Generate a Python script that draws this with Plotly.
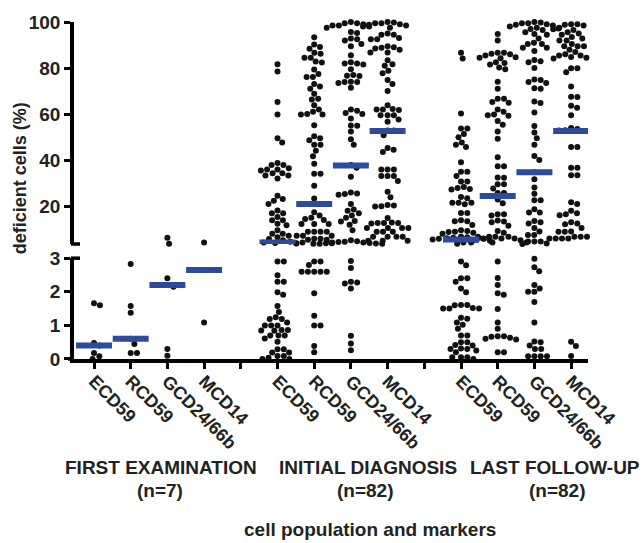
import numpy as np
import plotly.graph_objects as go

# ---------------- data ----------------
groups = ["FIRST EXAMINATION", "INITIAL DIAGNOSIS", "LAST FOLLOW-UP"]
group_n = ["(n=7)", "(n=82)", "(n=82)"]
markers = ["ECD59", "RCD59", "GCD24/66b", "MCD14"]

first_ecd59 = [0.0, 0.08, 0.18, 0.4, 0.48, 1.6, 1.66]
first_rcd59 = [0.18, 0.18, 0.45, 0.6, 1.38, 1.58, 2.83]
first_gcd = [0.1, 0.3, 2.15, 2.2, 2.4, 3.7, 6.3]
first_mcd14 = [1.09, 2.65, 2.65, 2.65, 2.65, 2.65, 4.3]

init_ecd59 = [81.7, 78.5, 65.3, 59.8, 49.5, 47.7,
              38.8, 37.9, 37.9, 36.5, 36.0, 36.0, 35.5, 34.3, 34.3, 33.4, 33.4, 32.0,
              24.6, 23.1, 22.4, 21.0, 18.2, 17.0, 17.0, 15.3, 13.9, 13.9, 12.4, 11.7,
              9.6, 8.1, 8.1, 7.2, 6.5, 5.8, 5.2, 4.6, 4.3, 4.0, 3.8,
              2.9, 2.9, 2.49, 2.3, 2.3, 1.99, 1.91, 1.58, 1.40, 1.24, 1.19, 1.19,
              1.09, 1.0, 1.0, 1.0, 0.86, 0.85, 0.84, 0.86, 0.7, 0.7, 0.7, 0.61,
              0.51, 0.29, 0.29, 0.19, 0.19, 0.09, 0.09, 0.04, 0.0, 0.0]
init_rcd59 = [93.4, 90.2, 89.1, 88.4, 86.7, 86.2, 84.5, 84.5, 82.8, 82.4, 79.4, 77.4,
              76.1, 76.1, 73.1, 72.0, 71.0, 68.8, 66.7, 66.3, 63.8, 62.0, 61.0, 60.0,
              59.8, 59.8, 55.2, 50.4, 49.5, 48.7, 46.7, 46.7, 44.1, 41.7, 38.5, 34.1,
              34.1, 28.9, 23.4, 21.0, 17.4, 16.0, 15.0, 14.5, 14.0, 12.3, 12.3, 12.3,
              8.9, 8.9, 8.9, 8.9, 7.2, 7.2, 7.2, 5.9, 5.9, 5.5, 5.5, 4.2, 3.9, 3.9,
              2.9, 2.9, 2.8, 2.6, 2.6, 2.6, 2.6, 2.6, 1.96, 1.29, 1.0, 1.0, 0.39, 0.2]
init_gcd = [100, 99.5, 99.5, 99, 98.5, 98.5, 98, 97.5, 95.7, 95.2, 92.8, 92.5, 92.0,
            90.5, 89.5, 85.6, 82.5, 82.0, 82.0, 81.5, 79.5, 77.0, 76.7, 76.5, 74.1,
            74.0, 73.9, 73.5, 71.4, 62.0, 61.5, 60.5, 60.0, 58.1, 55.1, 55.0, 52.4,
            49.1, 46.7, 37.9, 36.7, 32.8, 26.0, 25.5, 25.0, 25.3, 21.0, 18.6, 18.0,
            17.0, 16.0, 15.0, 13.6, 13.4, 12.0, 9.6, 5.2, 4.8, 4.6, 4.5, 4.3, 4.2,
            4.0, 3.9, 3.8, 3.7, 3.7, 3.7,
            2.92, 2.71, 2.30, 2.28, 2.25, 2.1, 0.69, 0.46, 0.26]
init_mcd14 = [100, 99.8, 99.5, 99.5, 99, 98.8, 98.5, 98, 97.5, 95, 94.5, 94.5, 93,
              92.5, 92.5, 89.5, 89, 88.8, 88.5, 88, 86.8, 86.8, 83.4, 81.7, 81, 78.8,
              77.7, 74.8, 73.1, 70, 63.8, 62.2, 62, 62, 61.8, 59.5, 59.5, 59.5, 57.7,
              56.7, 52.9, 52.9, 50.8, 45.3, 44.5, 43.5, 36, 36, 36, 33.1, 33.1, 33.1,
              31, 26.3, 23.9, 20.5, 20.3, 20.0, 19.9, 14.9, 12.9, 12.7, 12.7, 12.7,
              12.5, 10.6, 10.6, 10.6, 10.6, 8.9, 8.9, 8.9, 6.7, 6.7, 6.7, 6.7, 5.0,
              5.0, 5.0]

last_ecd59 = [86.7, 84.1, 60.3, 53.8, 53.8, 51.4, 50, 47.7, 46.7, 45.7, 39.1, 35, 35,
              33.1, 30.7, 30.7, 28.3, 27.9, 27.5, 27.3, 24, 23.5, 21.5, 21.5, 21.5,
              20.9, 17.1, 17.1, 13.9, 13.5, 13.5, 11.9, 9.6, 9.3, 8.9, 8.8, 8.5, 8.1,
              6.7, 6.7, 6.5, 6.3, 6.1, 5.9, 5.9, 5.6, 5.0, 5.0, 4.2, 3.7,
              2.9, 2.79, 2.4, 2.4, 2.3, 2.1, 1.99, 1.61, 1.61, 1.6, 1.52, 1.5, 1.5,
              1.5, 1.23, 1.2, 1.09, 1.02, 0.9, 0.7, 0.7, 0.5, 0.5, 0.42, 0.4, 0.31,
              0.3, 0.3, 0.25, 0.2, 0.05, 0.05, 0.05, 0.0]
last_rcd59 = [94.8, 92, 86.7, 86.7, 86.2, 86, 85.5, 84.7, 84.5, 84.3, 82.5, 82.2,
              81.5, 80.2, 79.5, 74.1, 71, 66.7, 66.7, 65.3, 64.9, 62, 61, 59.8, 59.5,
              59.3, 57, 55.4, 52.4, 49.3, 41.3, 37.4, 37.4, 32.5, 32.4, 29.6, 29.5,
              27.7, 25.7, 25.7, 24.4, 22.9, 21.3, 16.5, 16.5, 16.0, 13.8, 13.4, 13,
              11.5, 9.2, 8.5, 6.7, 6.7, 6.7, 6.0, 6.0, 6.0, 5.5, 5.2, 4.3, 4.3, 4.3,
              2.9, 2.41, 2.2, 1.96, 1.91, 1.49, 1.09, 0.9, 0.68, 0.68, 0.66, 0.63,
              0.6, 0.58, 0.2, 0.2]
last_gcd = [100, 99.8, 99.5, 99.5, 99, 98.8, 98.5, 98, 97.5, 97.2, 97, 96.5, 95.5,
            94.8, 94.5, 92.8, 91, 90.5, 90.5, 88.8, 88.8, 87.4, 83.5, 83, 82.5, 80,
            75, 74.8, 74, 73.5, 71.2, 71, 65.5, 64.8, 60.7, 54.8, 52, 49.5, 46.7,
            41.8, 40.1, 34.8, 31.7, 28.1, 25.4, 22.6, 22.6, 18.7, 17.3, 17.3, 13.6,
            13, 12.5, 10.6, 9.0, 7.5, 7.5, 4.7, 4.7, 4.7, 3.8, 3.6,
            2.98, 2.73, 2.61, 2.2, 2.1, 2.0, 2.0, 1.70, 1.09, 0.52, 0.5, 0.4, 0.3,
            0.3, 0.08, 0.08, 0.08, 0.08]
last_mcd14 = [99, 99, 98.8, 98.5, 97.5, 97, 96.8, 96.5, 95.5, 95, 95, 94.5, 93.5,
              92.8, 92, 92, 90.5, 89.5, 89.5, 89.5, 88, 87, 86, 85.5, 85.5, 84.8,
              84.5, 84.2, 79.9, 79.9, 78.2, 72, 67.5, 67.4, 63.6, 62.8, 59.5, 54,
              53.5, 53, 52.9, 45.7, 45.7, 36.7, 36.7, 33.5, 33.5, 21.7, 21.0, 18.0,
              17.0, 16.5, 16.1, 13.0, 12.5, 12.2, 10.5, 9.0, 8.9, 8.9, 6.7, 6.7, 6.7,
              6.0, 6.0, 6.0, 6.0, 0.51, 0.39, 0.09]

series = [[first_ecd59, first_rcd59, first_gcd, first_mcd14],
          [init_ecd59, init_rcd59, init_gcd, init_mcd14],
          [last_ecd59, last_rcd59, last_gcd, last_mcd14]]
medians = [[0.4, 0.6, 2.2, 2.65],
           [4.3, 21.0, 37.7, 52.7],
           [5.6, 24.4, 34.8, 52.7]]

lower_ticks = [0, 1, 2, 3]
upper_ticks = [20, 40, 60, 80, 100]

# ---------------- geometry ----------------
W, H = 644, 543
ML, MR, MT, MB = 74, 56, 17, 184
PW, PH = W - ML - MR, H - MT - MB
bottom_px = MT + PH
unit_px = 36.7
x0 = 1 - (94 - ML) / unit_px
x1 = x0 + PW / unit_px
low_rng = [0, 3]
up_rng = [3.6, 100]
low_dom = [0, (bottom_px - 256.7) / PH]
up_dom = [(bottom_px - 242.3) / PH, 1]

def to_px(v):
    if v <= low_rng[1]:
        f = low_dom[0] + (low_dom[1] - low_dom[0]) * (v - low_rng[0]) / (low_rng[1] - low_rng[0])
    else:
        f = up_dom[0] + (up_dom[1] - up_dom[0]) * (v - up_rng[0]) / (up_rng[1] - up_rng[0])
    return bottom_px - f * PH

def swarm(ys, d=6.3):
    order = np.argsort(ys, kind="stable")
    placed = []
    xs = np.zeros(len(ys))
    for i in order:
        y = ys[i]
        iv = []
        for (px, py) in placed:
            dy = abs(py - y)
            if dy < d:
                w = np.sqrt(d * d - dy * dy)
                iv.append((px - w, px + w))
        cands = [0.0] + [a for a, b in iv] + [b for a, b in iv]
        cands.sort(key=lambda c: (round(abs(c), 6), -c))
        for c in cands:
            if all(not (a + 1e-6 < c < b - 1e-6) for a, b in iv):
                break
        placed.append((c, y))
        xs[i] = c
    return xs

def xpaper(px):
    return (px - ML) / PW

def ypaper(py):
    return (bottom_px - py) / PH

fig = go.Figure()
DOT = "#111111"
BAR = "#2e4a9f"
FONT = "Liberation Sans, Arial, sans-serif"

lx, ly, ux, uy = [], [], [], []
for g, grp in enumerate(series):
    for m, vals in enumerate(grp):
        p = 1 + g * 5 + m
        ys = np.array([to_px(v) for v in vals])
        offs = swarm(ys)
        for v, o in zip(vals, offs):
            if v <= low_rng[1]:
                lx.append(p + o / unit_px); ly.append(v)
            else:
                ux.append(p + o / unit_px); uy.append(v)

fig.add_trace(go.Scatter(x=lx, y=ly, mode="markers", yaxis="y", xaxis="x",
                         marker=dict(size=6, color=DOT), cliponaxis=False,
                         showlegend=False, hoverinfo="y"))
fig.add_trace(go.Scatter(x=ux, y=uy, mode="markers", yaxis="y2", xaxis="x",
                         marker=dict(size=6, color=DOT), cliponaxis=False,
                         showlegend=False, hoverinfo="y"))

for g in range(3):
    for m in range(4):
        p = 1 + g * 5 + m
        med = medians[g][m]
        fig.add_trace(go.Scatter(x=[p - 0.49, p + 0.49], y=[med, med], mode="lines",
                                 yaxis="y" if med <= low_rng[1] else "y2",
                                 line=dict(color=BAR, width=6), cliponaxis=False,
                                 showlegend=False, hoverinfo="skip"))

tickvals = list(range(1, 15))
ticktext = []
for p in tickvals:
    if p % 5 == 0:
        ticktext.append("")
    else:
        ticktext.append(markers[(p - 1) % 5])

axis_common = dict(showgrid=False, zeroline=False, showline=True, linecolor="black",
                   linewidth=3.5, ticks="outside", tickcolor="black", tickwidth=3,
                   ticklen=6)

fig.update_layout(
    width=W, height=H, autosize=False,
    margin=dict(l=ML, r=MR, t=MT, b=MB, pad=0),
    paper_bgcolor="white", plot_bgcolor="white",
    font=dict(family=FONT, color="black"),
    xaxis=dict(range=[x0, x1], tickvals=tickvals, ticktext=ticktext, tickangle=45,
               tickfont=dict(family=FONT, size=18, weight="bold", color="#222"),
               ticklabelstandoff=-5, anchor="y", **axis_common),
    yaxis=dict(range=low_rng, domain=low_dom, tickvals=lower_ticks, anchor="x",
               tickfont=dict(family=FONT, size=19, weight="bold", color="#222"),
               **axis_common),
    yaxis2=dict(range=up_rng, domain=up_dom, tickvals=upper_ticks, anchor="x",
                tickfont=dict(family=FONT, size=19, weight="bold", color="#222"),
                **axis_common),
)

# axis-break caps and left stub of x axis
shapes = []
for py in (242.3, 256.7):
    shapes.append(dict(type="line", xref="paper", yref="paper",
                       x0=xpaper(71), x1=xpaper(80), y0=ypaper(py), y1=ypaper(py),
                       line=dict(color="black", width=3.5)))
shapes.append(dict(type="line", xref="paper", yref="paper",
                   x0=xpaper(68), x1=xpaper(ML), y0=0, y1=0,
                   line=dict(color="black", width=3.5)))
fig.update_layout(shapes=shapes)

label_font = dict(family=FONT, size=19, weight="bold", color="#222")
group_cx = [161, 367.5, 555]
n_cx = [160, 365.5, 557]
ann = []
for g in range(3):
    ann.append(dict(text=groups[g], x=xpaper(group_cx[g]), y=ypaper(469.5),
                    xref="paper", yref="paper", showarrow=False, xanchor="center",
                    yanchor="middle", font=label_font))
    ann.append(dict(text=group_n[g], x=xpaper(n_cx[g]), y=ypaper(492.5),
                    xref="paper", yref="paper", showarrow=False, xanchor="center",
                    yanchor="middle", font=label_font))
ann.append(dict(text="cell population and markers", x=xpaper(369.7), y=ypaper(532),
                xref="paper", yref="paper", showarrow=False, xanchor="center",
                yanchor="middle", font=label_font))
ann.append(dict(text="deficient cells (%)", x=xpaper(20), y=ypaper(175.5),
                xref="paper", yref="paper", showarrow=False, xanchor="center",
                yanchor="middle", textangle=-90,
                font=dict(family=FONT, size=18, weight="bold", color="#222")))
fig.update_layout(annotations=ann)

fig.write_html("out.html", config={"displayModeBar": False},
               post_script="document.body.style.margin='0';document.body.style.padding='0';")
